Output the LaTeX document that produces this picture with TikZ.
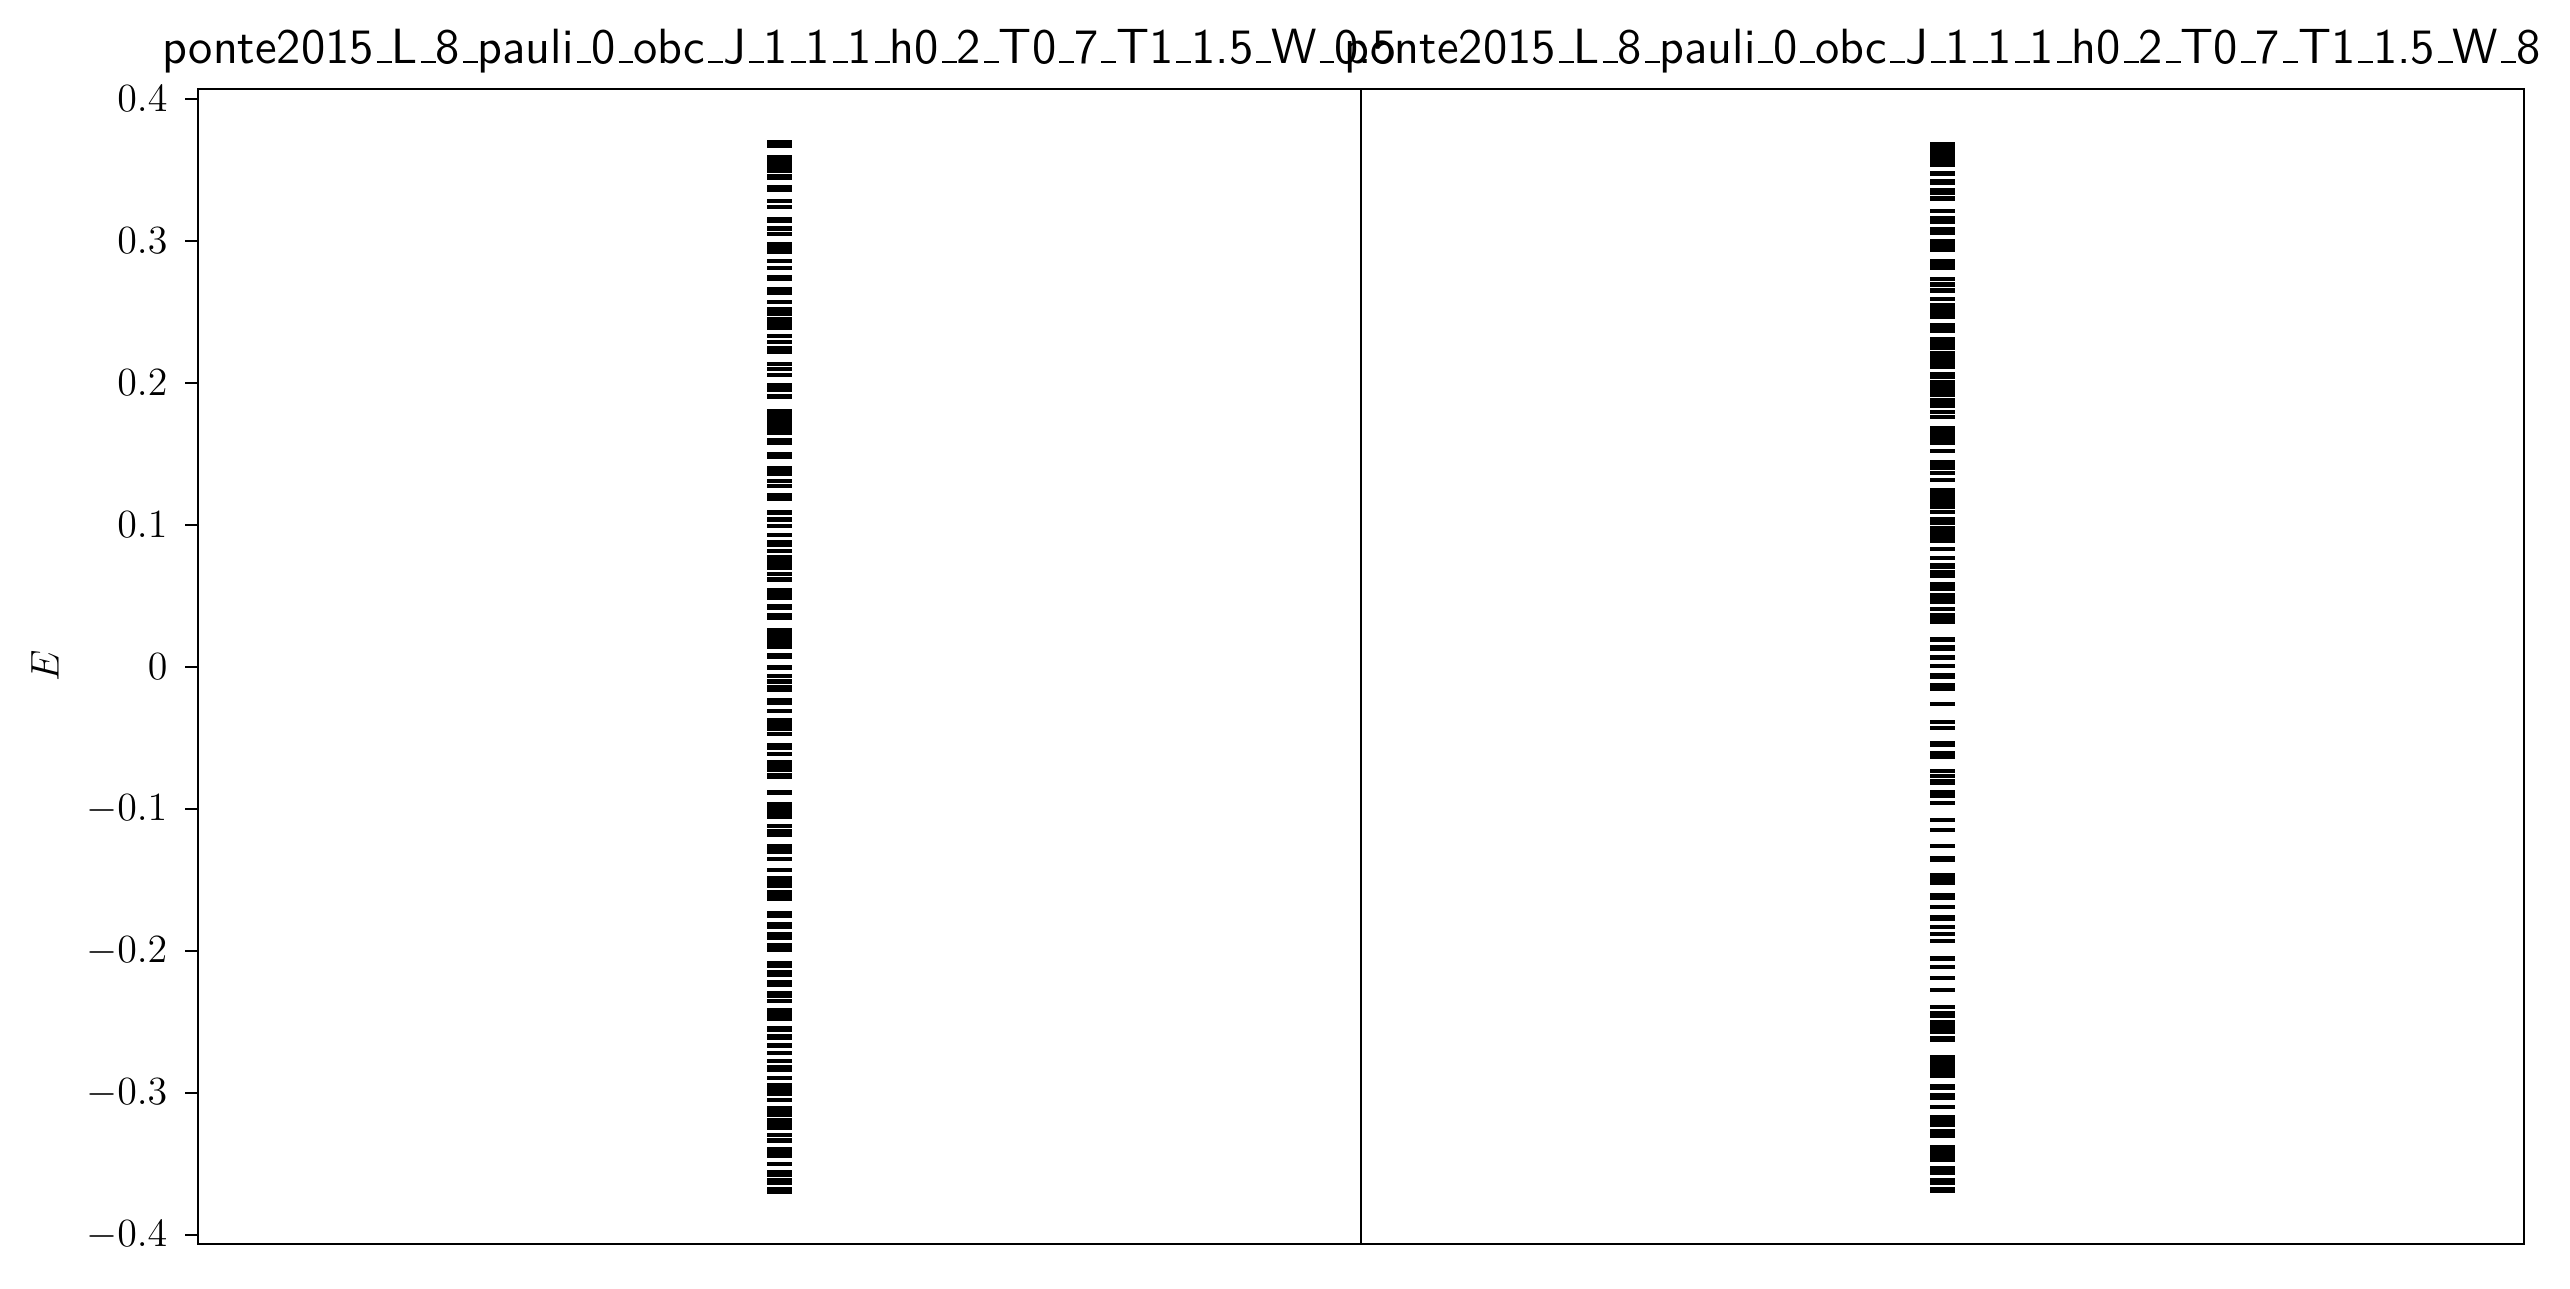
\documentclass[tikz,border=0pt]{standalone}
\usepackage{fontspec}
\newcommand{\usc}{\leavevmode\kern.06em\vbox{\hrule width .3em height 0.7pt}}
\begin{document}
\begin{tikzpicture}[x=0.3pt,y=-0.3pt,
  axisline/.style={line width=0.8pt},
  ticklabel/.style={anchor=east,inner sep=0pt,font=\fontsize{12}{14}\selectfont},
  titlelabel/.style={anchor=base,inner sep=0pt,font=\fontsize{14.85}{17}\selectfont\sffamily},
  levelbar/.style={fill=black}]
\useasboundingbox (0,0) rectangle (2570,1289);
% titles
\node[titlelabel] (t1) at (779.5,63) {ponte2015\usc L\usc 8\usc pauli\usc 0\usc obc\usc J\usc 1\usc 1\usc 1\usc h0\usc 2\usc T0\usc 7\usc T1\usc 1.5\usc W\usc 0.5};
\node[titlelabel] (t2) at (1942.5,63) {ponte2015\usc L\usc 8\usc pauli\usc 0\usc obc\usc J\usc 1\usc 1\usc 1\usc h0\usc 2\usc T0\usc 7\usc T1\usc 1.5\usc W\usc 8};
% energy levels, left panel
\foreach \a/\b in {140/148, 155/172.7, 174/180, 185/192, 199/203, 205/209, 216.7/223, 226/230.7, 232/236, 242/253.7, 258.7/262.7, 265.7/270, 274.7/281, 286.7/295, 300/304, 307/315.7, 317.3/330, 334.3/338, 340/344, 346/354, 362/366, 367.3/370.7, 372.7/377, 383.3/392, 394.3/398.7, 409.3/435, 438/444.7, 452/458.7, 466/476, 478.7/482.7, 484/488, 492.7/501, 510/515, 517/522, 524/528.3, 532.7/537.3, 540/546.7, 549/553, 555.3/570, 572/576, 577.3/582, 588/599.7, 604/610, 613/620, 628/649, 653/659, 665/670, 674/678, 679.3/683.7, 685/692, 698/705, 709/713, 718/730.7, 732/736, 743/750, 752/756, 760/771.7, 773.3/779, 789.7/795, 802/819, 824/828, 829.3/837, 844/854, 857/861, 868/872, 876/888, 890/901, 911/918, 922/929, 932/940, 943/952, 961/968, 970/977, 980/987, 991/998, 999/1003, 1008/1021, 1026/1032, 1034/1040, 1043/1048, 1051/1055, 1059/1063, 1065/1072, 1076/1080, 1083/1096, 1098/1102, 1106/1117, 1118/1130, 1133/1137, 1138/1143, 1147/1158, 1162/1166, 1170/1177, 1178/1185, 1187/1194}
  \fill[levelbar] (767,\a) rectangle (792,\b);
% energy levels, right panel
\foreach \a/\b in {142/167.3, 170.7/176.3, 179/184.7, 187.7/195, 196.3/201, 209/213, 216/224, 227.3/235, 239.3/252, 259.3/270, 276.7/281, 282.3/286.7, 288/293, 296.7/301, 302.7/319, 322.7/333.3, 337/350, 351/369, 372/379, 380/397, 398/408, 410/414, 415/419, 426/445, 449/453, 460/470, 471/475, 478/482, 488/509, 510/514, 517/525, 526/543, 547/551, 556/560, 563/569, 570/578, 582/591, 593/604, 607/611, 613/624, 637/642, 645/651, 655/660, 664/668, 673/679, 683/691, 702/706, 720/724, 726/730, 741/747, 751/759, 769/773, 774/778, 779/785, 790/798, 801/805, 818/822, 828/832, 844/848, 856/862, 873/885, 893/900, 905/909, 915/921, 925/929, 932/936, 939/943, 956/961, 965/969, 976/980, 988/992, 1005/1009, 1011/1018, 1020/1034, 1036/1042, 1055/1078, 1084/1090, 1093/1100, 1105/1109, 1115/1127, 1129/1138, 1145/1162, 1166/1175, 1178/1185, 1187/1193}
  \fill[levelbar] (1930,\a) rectangle (1955,\b);
% axes frames
\draw[axisline] (198,89) rectangle (1361,1244);
\draw[axisline] (1361,89) rectangle (2524,1244);
% y ticks and labels
\foreach \v/\lab in {0.4/0.4, 0.3/0.3, 0.2/0.2, 0.1/0.1, 0/0, -0.1/-0.1, -0.2/-0.2, -0.3/-0.3, -0.4/-0.4} {
  \pgfmathsetmacro{\yy}{667-\v*1420}
  \draw[axisline] (185,\yy) -- (198,\yy);
  \node[ticklabel] (lab\lab) at (168,\yy) {$\lab$};
}
\node[rotate=90,inner sep=0pt,font=\fontsize{12}{14}\selectfont] (ylab) at (45,666) {$E$};
\end{tikzpicture}
\end{document}
